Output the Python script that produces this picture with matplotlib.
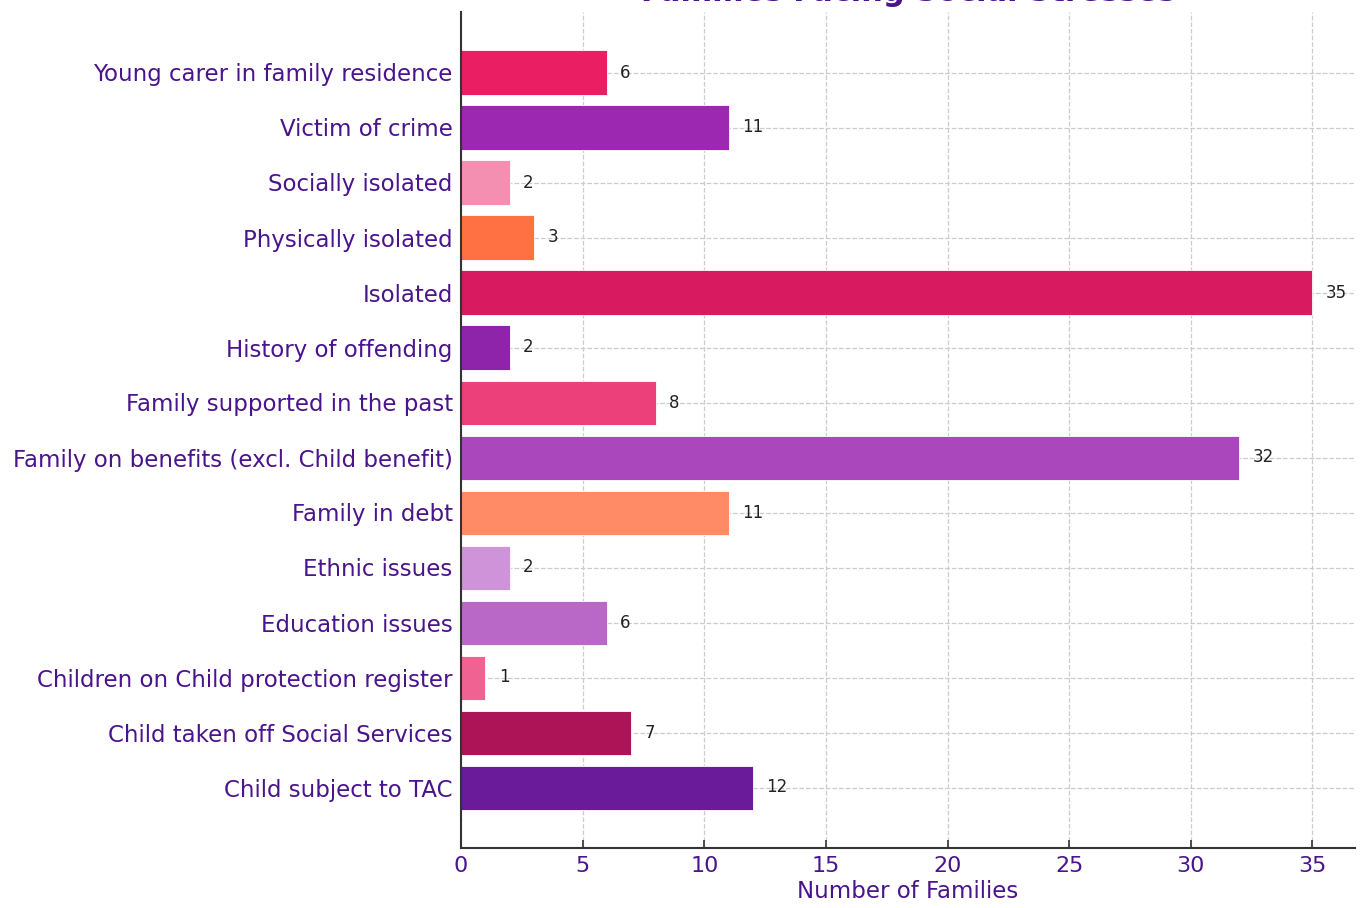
import matplotlib
matplotlib.use("Agg")
import matplotlib.pyplot as plt

categories = [
    "Child subject to TAC",
    "Child taken off Social Services",
    "Children on Child protection register",
    "Education issues",
    "Ethnic issues",
    "Family in debt",
    "Family on benefits (excl. Child benefit)",
    "Family supported in the past",
    "History of offending",
    "Isolated",
    "Physically isolated",
    "Socially isolated",
    "Victim of crime",
    "Young carer in family residence",
]
values = [12, 7, 1, 6, 2, 11, 32, 8, 2, 35, 3, 2, 11, 6]
colors = [
    "#6A1B9A", "#AD1457", "#F06292", "#BA68C8", "#CE93D8", "#FF8A65",
    "#AB47BC", "#EC407A", "#8E24AA", "#D81B60", "#FF7043", "#F48FB1",
    "#9C27B0", "#E91E63",
]
xticks = [0, 5, 10, 15, 20, 25, 30, 35]

purple = "#4A148C"

fig = plt.figure(figsize=(13.65, 9.08), dpi=100)
ax = fig.add_axes([461/1365, 1 - 848/908, (1355-461)/1365, (848-12)/908])

ypos = list(range(len(categories)))
ax.barh(ypos, values, height=0.8, color=colors, edgecolor="white", linewidth=0.6, zorder=2)

for y, v in zip(ypos, values):
    ax.text(v + 0.55, y, str(v), ha="left", va="center", fontsize=12, color="#222222", zorder=3)

ax.set_yticks(ypos)
ax.set_yticklabels(categories, fontsize=16.5, color=purple)
ax.set_xticks(xticks)
ax.set_xticklabels([str(t) for t in xticks], fontsize=16, color=purple)
ax.set_xlim(0, 36.75)
ax.set_ylim(-1.1, 14.1)
ax.set_xlabel("Number of Families", fontsize=16.5, color=purple, labelpad=3)
ax.set_title("Families Facing Social Stresses", fontsize=22, fontweight="bold", color=purple, pad=8)

ax.grid(True, linestyle="--", color="#cccccc", linewidth=0.9, zorder=0)
ax.set_axisbelow(True)
for s in ["top", "right"]:
    ax.spines[s].set_visible(False)
for s in ["left", "bottom"]:
    ax.spines[s].set_linewidth(1.5)
    ax.spines[s].set_color("#333333")
ax.tick_params(axis="both", direction="in", length=6, width=1.2, color="#333333")
ax.tick_params(axis="y", pad=6)
ax.tick_params(axis="x", pad=6)

fig.savefig("out.png", dpi=100)
